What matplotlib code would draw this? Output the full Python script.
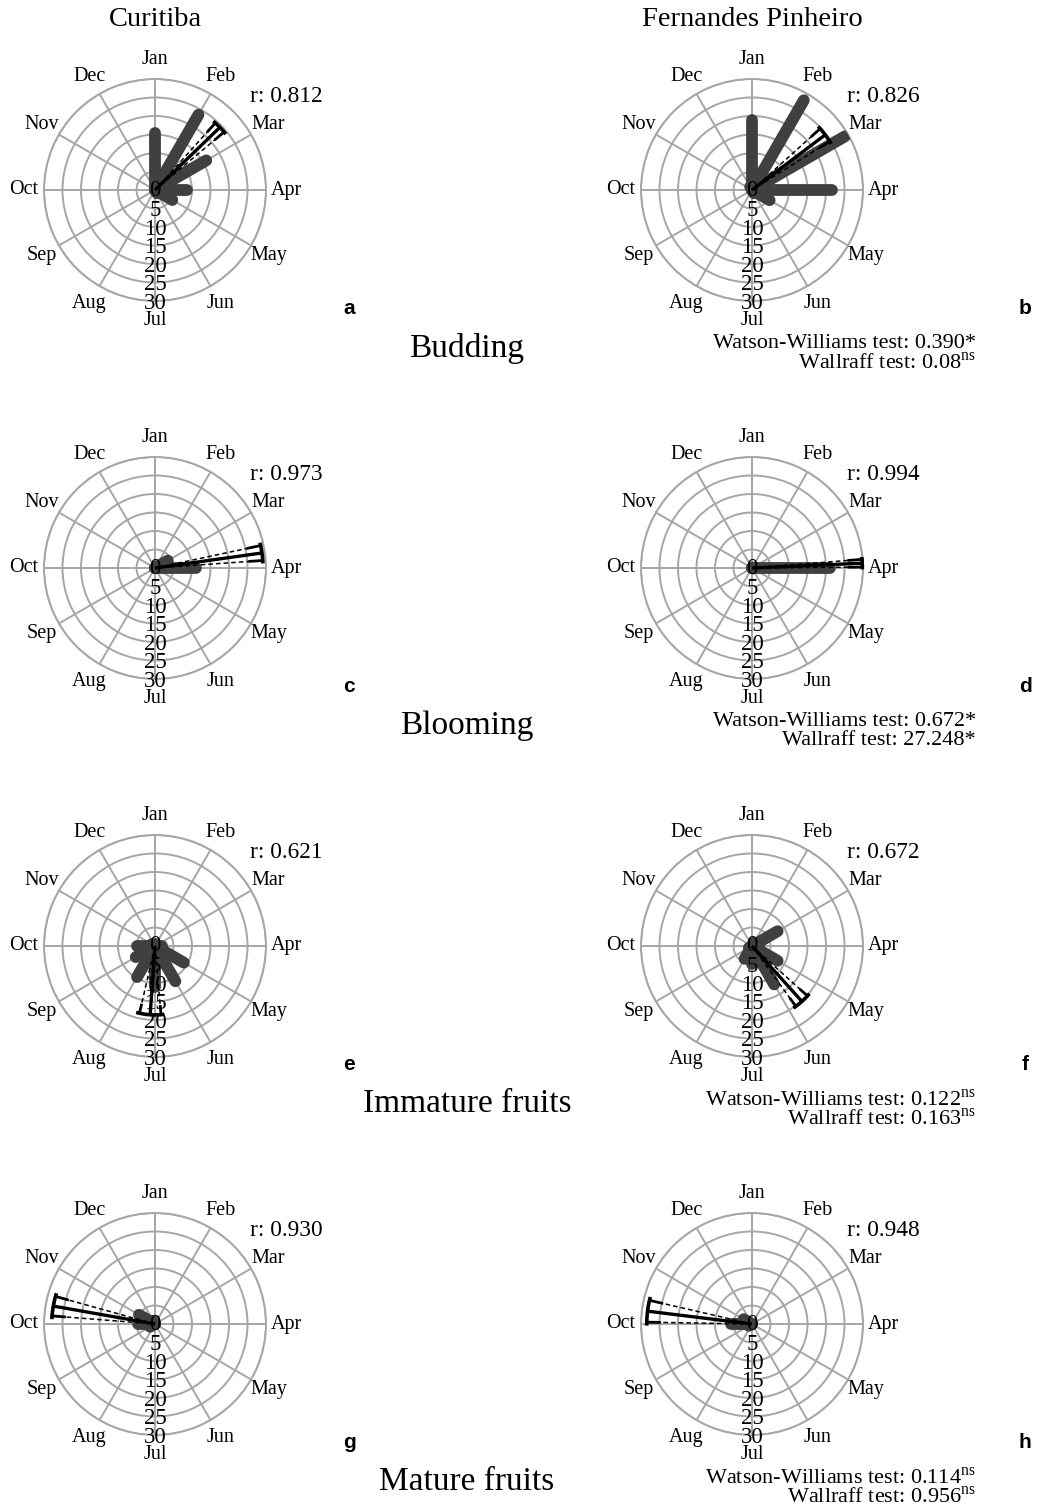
import numpy as np
import matplotlib
matplotlib.use("Agg")
import matplotlib.pyplot as plt

plt.rcParams["font.family"] = "Liberation Serif"
plt.rcParams["mathtext.fontset"] = "custom"
plt.rcParams["mathtext.rm"] = "Liberation Serif"

W, H = 1039, 1507

months = ["Jan", "Feb", "Mar", "Apr", "May", "Jun",
          "Jul", "Aug", "Sep", "Oct", "Nov", "Dec"]
r_ticks = [5, 10, 15, 20, 25, 30]

sites = ["Curitiba", "Fernandes Pinheiro"]
phases = ["Budding", "Blooming", "Immature fruits", "Mature fruits"]
letters = [["a", "b"], ["c", "d"], ["e", "f"], ["g", "h"]]

# monthly counts, Jan..Dec
cur_budding = [15.5, 23.5, 16, 8.7, 5.4, 1, 0, 0, 0, 0, 0, 0]
fp_budding = [19, 28, 29, 21.5, 5.5, 1, 0, 0, 0, 0, 0, 1]
cur_blooming = [0, 0.5, 4, 11, 0, 0, 0, 0, 0, 0, 0, 0]
fp_blooming = [0, 0, 0.3, 21, 0.3, 0, 0, 0, 0, 0, 0, 0]
cur_immature = [0.5, 0.5, 0.5, 2, 9, 11, 11, 9.7, 6, 5, 1, 0.5]
fp_immature = [0, 1, 8, 2, 8, 12, 5, 4, 1, 0, 0, 0]
cur_mature = [0, 0, 0, 0, 0, 0, 0, 0, 1.5, 4.6, 5, 1]
fp_mature = [0, 0, 0, 0, 0, 0, 0, 0, 1, 5.8, 2.6, 0]

counts = [[cur_budding, fp_budding],
          [cur_blooming, fp_blooming],
          [cur_immature, fp_immature],
          [cur_mature, fp_mature]]

# mean resultant length, mean direction (deg) and CI half width (deg)
r_values = [[0.812, 0.826], [0.973, 0.994], [0.621, 0.672], [0.930, 0.948]]
mean_dir = [[46, 53], [82, 87.5], [184, 138], [280, 277]]
ci_half = [[4, 5], [4, 2], [9, 6], [5.5, 6]]

ww_tests = ["0.390*", "0.672*", r"0.122$^{\mathrm{ns}}$", r"0.114$^{\mathrm{ns}}$"]
wallraff_tests = [r"0.08$^{\mathrm{ns}}$", "27.248*", r"0.163$^{\mathrm{ns}}$",
                  r"0.956$^{\mathrm{ns}}$"]

col_x = [155, 752]
row_y = [190, 568, 946, 1324]
letter_x = [349, 1025]
R = 111
RMAX = 30
GRID = "#a6a6a6"
BAR = "#404040"


def fx(x):
    return x / W


def fy(y):
    return 1 - y / H


fig = plt.figure(figsize=(W / 100, H / 100), dpi=100)

month_angles = np.deg2rad(np.arange(12) * 30)

for i, phase in enumerate(phases):
    cy = row_y[i]
    for j in range(2):
        cx = col_x[j]
        ax = fig.add_axes([fx(cx - R), fy(cy + R), 2 * R / W, 2 * R / H],
                          projection="polar")
        ax.set_theta_zero_location("N")
        ax.set_theta_direction(-1)
        ax.set_ylim(0, RMAX)
        ax.set_xticks(month_angles)
        ax.set_xticklabels([])
        ax.set_yticks(r_ticks)
        ax.set_yticklabels([])
        ax.tick_params(length=0)
        ax.grid(color=GRID, lw=1.4)
        ax.spines["polar"].set_color(GRID)
        ax.spines["polar"].set_linewidth(1.4)
        ax.set_axisbelow(True)
        ax.patch.set_alpha(0)

        # monthly bars
        for th, v in zip(month_angles, counts[i][j]):
            ax.plot([th, th], [0, v], color=BAR, lw=8.5,
                    solid_capstyle="round", zorder=3)

        # mean vector with confidence interval
        mu = np.deg2rad(mean_dir[i][j])
        ci = np.deg2rad(ci_half[i][j])
        L = r_values[i][j] * RMAX
        ax.plot([mu, mu], [0, L], color="black", lw=2.4, zorder=4,
                solid_capstyle="butt", clip_on=False)
        for side in (-1, 1):
            th = mu + side * ci
            ax.plot([th, th], [0, L * 0.88], color="black", lw=1.1,
                    dashes=(3, 2), zorder=4, clip_on=False)
            ax.plot([th, th], [L * 0.88, L], color="black", lw=2,
                    zorder=4, clip_on=False)
        arc = np.linspace(mu - ci * 1.15, mu + ci * 1.15, 20)
        ax.plot(arc, np.full(20, L), color="black", lw=2.6, zorder=4,
                clip_on=False)

        # labels
        for th, m in zip(month_angles, months):
            ax.text(th, 35.4, m, ha="center", va="center", fontsize=14.5)
        ax.text(0, 0, "0", ha="center", va="center", fontsize=16.5, zorder=5)
        for rt in r_ticks:
            ax.text(np.pi, rt + 0.6, str(rt), ha="center", va="center",
                    fontsize=16.5, zorder=5)

        fig.text(fx(cx + 95), fy(cy - 93), f"r: {r_values[i][j]:.3f}",
                 ha="left", va="center", fontsize=16.8)
        fig.text(fx(letter_x[j]), fy(cy + 118), letters[i][j],
                 family="Liberation Sans", weight="bold", fontsize=15,
                 ha="center", va="center")

    fig.text(fx(467), fy(cy + 158), phase, ha="center", va="center",
             fontsize=24)
    fig.text(fx(976), fy(cy + 154), "Watson-Williams test: " + ww_tests[i],
             ha="right", va="center", fontsize=16)
    fig.text(fx(976), fy(cy + 173), "Wallraff test: " + wallraff_tests[i],
             ha="right", va="center", fontsize=16)

for j, site in enumerate(sites):
    fig.text(fx(col_x[j]), fy(20), site, ha="center", va="center",
             fontsize=20.5)

fig.savefig("out.png", dpi=100, facecolor="white")
